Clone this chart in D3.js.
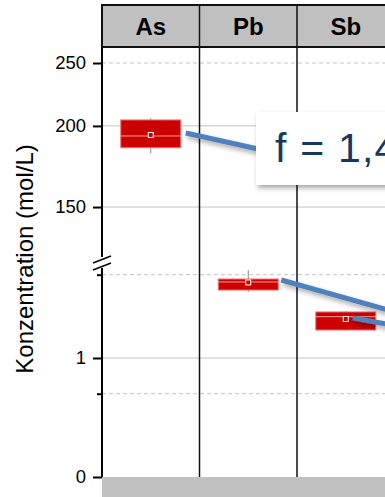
<!DOCTYPE html>
<html>
<head>
<meta charset="utf-8">
<script src="https://cdn.jsdelivr.net/npm/d3@7"></script>
<style>
  html, body { margin: 0; padding: 0; background: #fff; overflow: hidden; }
  text { font-family: "Liberation Sans", Arial, Helvetica, sans-serif; }
</style>
</head>
<body>
<div id="vis"></div>
<script>
// column categories
const elements = ["As", "Pb", "Sb"];

// box statistics per element (upper panel: As, lower panel: Pb, Sb)
const whiskerLow  = [181.5, 1.555, 1.229];
const q1          = [185.1, 1.571, 1.235];
const median      = [193.0, 1.639, 1.347];
const q3          = [204.3, 1.664, 1.387];
const whiskerHigh = [205.5, 1.739, 1.395];
const mean        = [193.7, 1.635, 1.328];
const panel       = ["upper", "lower", "lower"];

// axis ticks
const upperTicks = [150, 200, 250];
const upperDashed = [250];
const lowerTicks = [0, 1];
const lowerMinor = [0.7, 1.7];

const annotation = "f = 1,4";

const width = 385, height = 497;
const left = 102, headerTop = 5, plotTop = 47, plotBottom = 477, breakY = 263;
const font = "'Liberation Sans', Arial, Helvetica, sans-serif";

const svg = d3.select("#vis").append("svg")
  .attr("width", width).attr("height", height);

const defs = svg.append("defs");
const sh = defs.append("filter").attr("id", "shadow")
  .attr("x", "-20%").attr("y", "-20%").attr("width", "150%").attr("height", "180%");
sh.append("feDropShadow").attr("dx", 2).attr("dy", 3).attr("stdDeviation", 2.5)
  .attr("flood-color", "#000").attr("flood-opacity", 0.35);

const x = d3.scaleBand().domain(elements).range([left, left + 3 * 97.5]).paddingInner(0);
const yUp = d3.scaleLog().domain([123, 264.6]).range([breakY, plotTop]);
const yLo = d3.scaleLinear().domain([0, 1]).range([plotBottom, 358]);

const data = elements.map((e, i) => ({
  name: e, lo: whiskerLow[i], q1: q1[i], med: median[i], q3: q3[i],
  hi: whiskerHigh[i], mean: mean[i], y: panel[i] === "upper" ? yUp : yLo
}));

// gridlines
const grid = svg.append("g");
function gridLine(y, dashed) {
  grid.append("line").attr("x1", left).attr("x2", width)
    .attr("y1", y).attr("y2", y)
    .attr("stroke", "#c4c4c4").attr("stroke-width", 1)
    .attr("stroke-dasharray", dashed ? "4,3" : null);
}
upperTicks.forEach(v => gridLine(yUp(v), upperDashed.includes(v)));
lowerTicks.filter(v => v > 0).forEach(v => gridLine(yLo(v), false));
lowerMinor.forEach(v => gridLine(yLo(v), true));

// column dividers
svg.append("g").selectAll("line")
  .data(elements.slice(1))
  .join("line")
  .attr("x1", d => x(d)).attr("x2", d => x(d))
  .attr("y1", headerTop).attr("y2", plotBottom)
  .attr("stroke", "#111").attr("stroke-width", 1.5);

// header strip
const header = svg.append("g");
header.append("rect").attr("x", left).attr("y", headerTop)
  .attr("width", x.range()[1] - left).attr("height", plotTop - headerTop)
  .attr("fill", "#c0c0c0").attr("stroke", "#111").attr("stroke-width", 2);
header.selectAll("line.div").data(elements.slice(1)).join("line")
  .attr("x1", d => x(d)).attr("x2", d => x(d))
  .attr("y1", headerTop).attr("y2", plotTop)
  .attr("stroke", "#111").attr("stroke-width", 1.5);
header.selectAll("text").data(elements).join("text")
  .attr("x", d => x(d) + x.bandwidth() / 2).attr("y", 35)
  .attr("text-anchor", "middle").attr("font-size", 24).attr("font-weight", "bold")
  .attr("font-family", font).attr("fill", "#000").text(d => d);

// bottom strip
svg.append("rect").attr("x", left).attr("y", plotBottom)
  .attr("width", width - left).attr("height", height - plotBottom)
  .attr("fill", "#c0c0c0");

// boxes
const boxW = 60;
const boxes = svg.append("g").selectAll("g").data(data).join("g")
  .attr("transform", d => `translate(${x(d.name) + x.bandwidth() / 2},0)`);
boxes.append("line")
  .attr("y1", d => d.y(d.lo)).attr("y2", d => d.y(d.hi))
  .attr("stroke", "#888").attr("stroke-width", 1);
boxes.append("rect")
  .attr("x", -boxW / 2).attr("width", boxW)
  .attr("y", d => d.y(d.q3)).attr("height", d => d.y(d.q1) - d.y(d.q3))
  .attr("fill", "#cc0000").attr("stroke", "#e77").attr("stroke-width", 1);
boxes.append("line")
  .attr("x1", -boxW / 2).attr("x2", boxW / 2)
  .attr("y1", d => d.y(d.med)).attr("y2", d => d.y(d.med))
  .attr("stroke", "#f0a0a0").attr("stroke-width", 1);
boxes.append("rect")
  .attr("x", -2.5).attr("width", 5)
  .attr("y", d => d.y(d.mean) - 2.5).attr("height", 5)
  .attr("fill", "#cc0000").attr("stroke", "#fff").attr("stroke-width", 1);

// connector lines toward the annotation
const blue = "#4f81bd";
const conn = svg.append("g").attr("filter", "url(#shadow)");
const asD = data[0], pbD = data[1], sbD = data[2];
const conns = [
  [x("As") + x.bandwidth() / 2 + boxW / 2 + 5, asD.y(asD.med) - 3, 258, 149],
  [x("Pb") + x.bandwidth() / 2 + boxW / 2 + 3, pbD.y(pbD.q3) + 1, 392, 311],
  [x("Sb") + x.bandwidth() / 2 + 7, sbD.y(sbD.mean) - 1, 392, 325]
];
conn.selectAll("line").data(conns).join("line")
  .attr("x1", d => d[0]).attr("y1", d => d[1])
  .attr("x2", d => d[2]).attr("y2", d => d[3])
  .attr("stroke", blue).attr("stroke-width", 5);

// annotation box
svg.append("rect").attr("x", 256).attr("y", 112).attr("width", 160).attr("height", 73)
  .attr("fill", "#fff").attr("filter", "url(#shadow)");
svg.append("text").attr("x", 275).attr("y", 162)
  .attr("font-size", 41).attr("letter-spacing", 1.2).attr("font-family", font)
  .attr("fill", "#17375e").text(annotation);

// axes
const axUp = svg.append("g").attr("transform", `translate(${left},0)`)
  .call(d3.axisLeft(yUp).tickValues(upperTicks).tickFormat(d3.format("d")).tickSize(9).tickPadding(7));
const axLo = svg.append("g").attr("transform", `translate(${left},0)`)
  .call(d3.axisLeft(yLo).tickValues(lowerTicks).tickFormat(d3.format("d")).tickSize(9).tickPadding(7));
const axMinor = svg.append("g").attr("transform", `translate(${left},0)`)
  .call(d3.axisLeft(yLo).tickValues(lowerMinor).tickFormat("").tickSize(5));
[axUp, axLo, axMinor].forEach(a => {
  a.attr("font-family", font);
  a.select(".domain").remove();
  a.selectAll(".tick line").attr("stroke", "#000").attr("stroke-width", 2);
  a.selectAll(".tick text").attr("font-size", 18.5).attr("fill", "#000");
});

// axis line with break
svg.append("line").attr("x1", left).attr("x2", left).attr("y1", plotTop).attr("y2", breakY - 6)
  .attr("stroke", "#000").attr("stroke-width", 2);
svg.append("line").attr("x1", left).attr("x2", left).attr("y1", breakY + 5).attr("y2", plotBottom)
  .attr("stroke", "#000").attr("stroke-width", 2);
[-3, 4].forEach(o => {
  svg.append("line").attr("x1", 93).attr("x2", 111)
    .attr("y1", breakY + o + 3).attr("y2", breakY + o - 4)
    .attr("stroke", "#000").attr("stroke-width", 1.5);
});

// y label
svg.append("text")
  .attr("transform", "translate(33,259) rotate(-90)")
  .attr("text-anchor", "middle").attr("font-size", 24).attr("font-family", font)
  .attr("fill", "#000").text("Konzentration (mol/L)");
</script>
</body>
</html>
